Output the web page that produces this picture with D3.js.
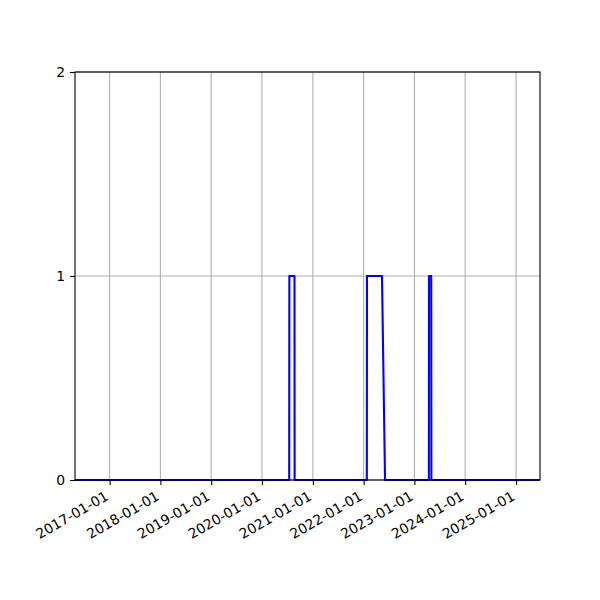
<!DOCTYPE html>
<html>
<head>
<meta charset="utf-8">
<script src="https://cdn.jsdelivr.net/npm/d3@7"></script>
<style>
  body { margin: 0; background: #fff; }
  svg { display: block; }
  text { font-family: "DejaVu Sans", sans-serif; font-size: 13.9px; fill: #000; }
</style>
</head>
<body>
<svg id="chart" width="600" height="600"></svg>
<script>
// series: date of each sample and its value
const dates = [
    '2016-04-27', '2020-07-15', '2020-07-16', '2020-08-22', '2020-08-23',
    '2022-01-24', '2022-01-25', '2022-05-13', '2022-06-04',
    '2023-04-15', '2023-04-16', '2023-05-02', '2023-05-03', '2025-06-22'
];
const values = [0, 0, 1, 1, 0, 0, 1, 1, 0, 0, 1, 1, 0, 0];

const xTickLabels = ['2017-01-01', '2018-01-01', '2019-01-01', '2020-01-01', '2021-01-01',
    '2022-01-01', '2023-01-01', '2024-01-01', '2025-01-01'];
const yTicks = [0, 1, 2];

const parse = d3.timeParse('%Y-%m-%d');
const data = dates.map((d, i) => ({ date: parse(d), value: values[i] }));

const margin = { top: 72, right: 60, bottom: 120, left: 75 };
const width = 600 - margin.left - margin.right;
const height = 600 - margin.top - margin.bottom;

const svg = d3.select('#chart');
const g = svg.append('g').attr('transform', `translate(${margin.left},${margin.top})`);

const xScale = d3.scaleTime()
    .domain(d3.extent(data, d => d.date))
    .range([0, width]);

const yScale = d3.scaleLinear()
    .domain([0, 2])
    .range([height, 0]);

const xTicks = xTickLabels.map(parse);

// grid
g.append('g').selectAll('line')
    .data(xTicks)
    .join('line')
    .attr('x1', d => xScale(d)).attr('x2', d => xScale(d))
    .attr('y1', 0).attr('y2', height)
    .attr('stroke', '#b0b0b0').attr('stroke-width', 1.1);

g.append('g').selectAll('line')
    .data(yTicks)
    .join('line')
    .attr('x1', 0).attr('x2', width)
    .attr('y1', d => yScale(d)).attr('y2', d => yScale(d))
    .attr('stroke', '#b0b0b0').attr('stroke-width', 1.1);

// series line
const line = d3.line()
    .x(d => xScale(d.date))
    .y(d => yScale(d.value));

g.append('path')
    .datum(data)
    .attr('fill', 'none')
    .attr('stroke', '#0000ff')
    .attr('stroke-width', 2.08)
    .attr('stroke-linejoin', 'round')
    .attr('d', line);

// axes
const xAxis = g.append('g')
    .attr('transform', `translate(0,${height})`)
    .call(d3.axisBottom(xScale).tickValues(xTicks).tickFormat(d3.timeFormat('%Y-%m-%d'))
        .tickSizeInner(4.9).tickSizeOuter(0).tickPadding(4.9));
xAxis.select('.domain').remove();
xAxis.selectAll('.tick line').attr('stroke', '#000').attr('stroke-width', 1.1);
xAxis.selectAll('.tick text')
    .attr('font-size', null).attr('font-family', null)
    .attr('text-anchor', 'end')
    .attr('y', 0).attr('dy', '0.76em')
    .attr('transform', 'translate(-6,9.8) rotate(-30)');

const yAxis = g.append('g')
    .call(d3.axisLeft(yScale).tickValues(yTicks).tickFormat(d3.format('d'))
        .tickSizeInner(4.9).tickSizeOuter(0).tickPadding(4.9));
yAxis.select('.domain').remove();
yAxis.selectAll('.tick line').attr('stroke', '#000').attr('stroke-width', 1.1);
yAxis.selectAll('.tick text').attr('font-size', null).attr('font-family', null);

// frame
g.append('rect')
    .attr('x', 0).attr('y', 0)
    .attr('width', width).attr('height', height)
    .attr('fill', 'none')
    .attr('stroke', '#000')
    .attr('stroke-width', 1.1);
</script>
</body>
</html>
